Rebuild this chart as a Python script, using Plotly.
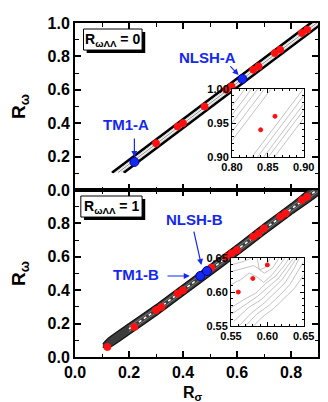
import numpy as np
import plotly.graph_objects as go

# ---------------- data ----------------
# top panel (R_wAA = 0)
red_a_x = [0.30, 0.38, 0.40, 0.48, 0.56, 0.58, 0.66, 0.68, 0.74, 0.76, 0.84, 0.86]
red_a_y = [0.28, 0.38, 0.40, 0.50, 0.60, 0.62, 0.72, 0.74, 0.82, 0.84, 0.94, 0.96]
blue_a_x = [0.22, 0.62]
blue_a_y = [0.168, 0.665]
band_a_x = [0.10, 0.30, 0.50, 0.70, 0.92]
band_a_y = [0.032, 0.276, 0.520, 0.764, 1.030]
band_a_ymin = 0.105
band_a_off = [0.029, 0.024, 0.012, 0.0, -0.012, -0.024, -0.029]

# bottom panel (R_wAA = 1)
red_b_x = [0.12, 0.22, 0.30, 0.32, 0.38, 0.40, 0.505, 0.56, 0.58, 0.60, 0.66, 0.68, 0.70, 0.76, 0.78, 0.84, 0.86]
red_b_y = [0.06, 0.18, 0.28, 0.30, 0.38, 0.40, 0.535, 0.60, 0.62, 0.64, 0.72, 0.74, 0.77, 0.84, 0.86, 0.94, 0.96]
blue_b_x = [0.464, 0.489]
blue_b_y = [0.485, 0.515]
band_b_x = [0.103, 0.125, 0.20, 0.30, 0.40, 0.50, 0.60, 0.70, 0.80, 0.92]
band_b_y = [0.068, 0.085, 0.168, 0.280, 0.400, 0.520, 0.640, 0.765, 0.885, 1.030]
band_b_half = [0.010, 0.030, 0.033, 0.033, 0.033, 0.033, 0.033, 0.033, 0.033, 0.033]

# y tick labels
y_ticks_top = [0.0, 0.2, 0.4, 0.6, 0.8, 1.0]
y_ticks_bottom = [0.0, 0.2, 0.4, 0.6, 0.8]

# inset A (x 0.80-0.90, y 0.90-1.00)
inset_a_pts_x = [0.84, 0.86]
inset_a_pts_y = [0.94, 0.96]
inset_a_y_at080 = [0.975, 0.962, 0.950, 0.937, 0.924, 0.861, 0.850, 0.838, 0.829, 0.817]
inset_a_y_at090 = [1.115, 1.102, 1.090, 1.077, 1.064, 1.001, 0.990, 0.978, 0.969, 0.957]

# inset B (x 0.55-0.65, y 0.55-0.65)
inset_b_pts_x = [0.56, 0.58, 0.60]
inset_b_pts_y = [0.60, 0.62, 0.64]
inset_b_lines = [
    ([0.550, 0.568, 0.585, 0.598, 0.611, 0.624, 0.630], [0.577, 0.589, 0.599, 0.613, 0.623, 0.640, 0.650]),
    ([0.550, 0.570, 0.587, 0.602, 0.616, 0.629, 0.636], [0.567, 0.581, 0.594, 0.608, 0.621, 0.640, 0.650]),
    ([0.554, 0.574, 0.592, 0.607, 0.620, 0.633, 0.640], [0.557, 0.577, 0.589, 0.604, 0.618, 0.638, 0.650]),
    ([0.561, 0.578, 0.596, 0.611, 0.624, 0.637, 0.644], [0.550, 0.569, 0.584, 0.599, 0.613, 0.635, 0.650]),
    ([0.570, 0.585, 0.603, 0.618, 0.631, 0.642, 0.650], [0.550, 0.567, 0.581, 0.596, 0.611, 0.630, 0.645]),
    ([0.581, 0.594, 0.609, 0.624, 0.637, 0.650], [0.550, 0.564, 0.576, 0.591, 0.605, 0.625]),
    ([0.550, 0.563, 0.575, 0.586, 0.595, 0.607, 0.618, 0.624], [0.611, 0.618, 0.628, 0.622, 0.614, 0.626, 0.641, 0.650]),
    ([0.550, 0.568, 0.581, 0.590, 0.597, 0.604], [0.630, 0.635, 0.639, 0.633, 0.636, 0.650]),
    ([0.586, 0.589, 0.596, 0.607, 0.616], [0.650, 0.633, 0.628, 0.635, 0.650]),
    ([0.550, 0.567, 0.578], [0.640, 0.645, 0.650]),
]

FONT = "Liberation Sans"
BLUE = "#1428f0"

fig = go.Figure()

# ---- top band (contour lines) ----
bax = np.array(band_a_x)
bay = np.array(band_a_y)
for off in band_a_off:
    yy = bay + off
    xs = float(np.interp(band_a_ymin, yy, bax))
    mask = bax > xs
    lx = [xs] + list(bax[mask])
    ly = [band_a_ymin] + list(yy[mask])
    a = abs(off)
    if a >= 0.020:
        col, w = "#000000", 1.9
    elif a > 0:
        col, w = "#c8c8c8", 0.8
    else:
        col, w = "#8a8a8a", 1.0
    fig.add_trace(go.Scatter(x=lx, y=ly, mode="lines", line=dict(color=col, width=w),
                             xaxis="x", yaxis="y", hoverinfo="skip", showlegend=False))

# ---- bottom band (dense contour region) ----
bbx = np.array(band_b_x)
bby = np.array(band_b_y)
bbh = np.array(band_b_half)
poly_x = list(bbx) + list(bbx[::-1])
poly_y = list(bby + bbh) + list((bby - bbh)[::-1])
fig.add_trace(go.Scatter(x=poly_x, y=poly_y, mode="lines", fill="toself", fillcolor="#3c3c3c",
                         line=dict(color="#111111", width=1.2, shape="spline", smoothing=0.6),
                         xaxis="x2", yaxis="y2", hoverinfo="skip", showlegend=False))
for off, col, w, d in [(0.015, "#8a8a8a", 0.8, "solid"), (-0.015, "#8a8a8a", 0.8, "solid"),
                       (0.0, "#ffffff", 1.5, "dot")]:
    fig.add_trace(go.Scatter(x=list(bbx[2:]), y=list(bby[2:] + off), mode="lines",
                             line=dict(color=col, width=w, dash=d), xaxis="x2", yaxis="y2",
                             hoverinfo="skip", showlegend=False))

# ---- points ----
def pts(x, y, xa, ya, color, size, lc=None):
    fig.add_trace(go.Scatter(x=x, y=y, mode="markers",
                             marker=dict(color=color, size=size,
                                         line=dict(color=lc or color, width=1)),
                             xaxis=xa, yaxis=ya, hoverinfo="skip", showlegend=False))

pts(red_a_x, red_a_y, "x", "y", "#ff1010", 7)
pts(blue_a_x, blue_a_y, "x", "y", BLUE, 9, "#0000a0")
pts(red_b_x, red_b_y, "x2", "y2", "#ff1010", 7)
pts(blue_b_x, blue_b_y, "x2", "y2", BLUE, 9, "#0000a0")

# ---- insets ----
for y0, y1 in zip(inset_a_y_at080, inset_a_y_at090):
    fig.add_trace(go.Scatter(x=[0.80, 0.90], y=[y0, y1], mode="lines",
                             line=dict(color="#b4b4b4", width=0.8), xaxis="x3", yaxis="y3",
                             hoverinfo="skip", showlegend=False))
pts(inset_a_pts_x, inset_a_pts_y, "x3", "y3", "#ff1010", 4)
for lx, ly in inset_b_lines:
    fig.add_trace(go.Scatter(x=lx, y=ly, mode="lines",
                             line=dict(color="#b4b4b4", width=0.8), xaxis="x4", yaxis="y4",
                             hoverinfo="skip", showlegend=False))
pts(inset_b_pts_x, inset_b_pts_y, "x4", "y4", "#ff1010", 4)

# ---- axes ----
tickfont = dict(family=FONT, size=16, color="black", weight="bold")
main_common = dict(showline=True, linewidth=2, linecolor="black", mirror="ticks",
                   ticks="inside", ticklen=6, tickwidth=1.5, tickcolor="black",
                   showgrid=False, zeroline=False, tickfont=tickfont,
                   minor=dict(ticks="inside", ticklen=3.5, tickwidth=1.2, tickcolor="black",
                              tickmode="linear", tick0=0, dtick=0.1))
inset_font = dict(family=FONT, size=11, color="black", weight="bold")
inset_common = dict(showline=True, linewidth=1, linecolor="black", mirror="ticks",
                    ticks="inside", ticklen=4, tickwidth=1, tickcolor="black",
                    showgrid=False, zeroline=False, tickfont=inset_font, dtick=0.05,
                    tickformat=".2f",
                    minor=dict(ticks="inside", ticklen=2, tickwidth=0.8, tickcolor="black", dtick=0.01))

ytitle = dict(text="R<sub>ω</sub>", font=dict(family=FONT, size=19, color="black", weight="bold"),
              standoff=18)

fig.update_layout(
    width=328, height=402,
    margin=dict(l=67, r=7, t=15, b=53),
    paper_bgcolor="white", plot_bgcolor="white",
    showlegend=False,
    xaxis=dict(domain=[0, 1], anchor="y", range=[0, 0.9], dtick=0.2, showticklabels=False, **main_common),
    yaxis=dict(domain=[0.5, 1], anchor="x", range=[0, 1], tickmode="array", tickvals=y_ticks_top,
               ticktext=[f"{v:.1f}" for v in y_ticks_top], title=ytitle, **main_common),
    xaxis2=dict(domain=[0, 1], anchor="y2", range=[0, 0.9], dtick=0.2, tickformat=".1f", **main_common),
    yaxis2=dict(domain=[0, 0.5], anchor="x2", range=[0, 1], tickmode="array", tickvals=y_ticks_bottom,
                ticktext=[f"{v:.1f}" for v in y_ticks_bottom], title=ytitle, **main_common),
    xaxis3=dict(domain=[0.646, 0.941], anchor="y3", range=[0.80, 0.90], **inset_common),
    yaxis3=dict(domain=[0.599, 0.802], anchor="x3", range=[0.90, 1.00], **inset_common),
    xaxis4=dict(domain=[0.642, 0.941], anchor="y4", range=[0.55, 0.65], **inset_common),
    yaxis4=dict(domain=[0.093, 0.296], anchor="x4", range=[0.55, 0.65], **inset_common),
)

# ---- boxes with shadow ----
shapes = []
annos = []
for xa, ya, x0, x1, label in [("x", "y", 0.035, 0.276, "0"), ("x2", "y2", 0.024, 0.276, "1")]:
    shapes.append(dict(type="rect", xref=f"{xa} domain", yref=f"{ya} domain",
                       x0=x0 + 0.013, x1=x1 + 0.013, y0=0.820, y1=0.946,
                       fillcolor="black", line=dict(width=0)))
    shapes.append(dict(type="rect", xref=f"{xa} domain", yref=f"{ya} domain",
                       x0=x0, x1=x1, y0=0.838, y1=0.964,
                       fillcolor="white", line=dict(color="black", width=1)))
    annos.append(dict(xref=f"{xa} domain", yref=f"{ya} domain", x=(x0 + x1) / 2, y=0.901,
                      text=f"R<sub>ωΛΛ</sub> = {label}", showarrow=False,
                      font=dict(family=FONT, size=14, color="black", weight="bold"),
                      xanchor="center", yanchor="middle"))

# x-axis title
annos.append(dict(xref="paper", yref="paper", x=0.485, y=-0.108, text="R<sub>σ</sub>",
                  showarrow=False, xanchor="center", yanchor="middle",
                  font=dict(family=FONT, size=16, color="black", weight="bold")))

labfont = dict(family=FONT, size=15, color=BLUE, weight="bold")
for xa, ya, tx, ty, txt, hx, hy, ax, ay in [
    ("x", "y", 0.188, 0.395, "TM1-A", 0.220, 0.198, 0.220, 0.317),
    ("x", "y", 0.489, 0.796, "NLSH-A", 0.606, 0.689, 0.570, 0.749),
    ("x2", "y2", 0.443, 0.826, "NLSH-B", 0.468, 0.551, 0.439, 0.760),
    ("x2", "y2", 0.227, 0.497, "TM1-B", 0.425, 0.485, 0.337, 0.485),
]:
    annos.append(dict(xref=xa, yref=ya, x=tx, y=ty, text=txt, showarrow=False, font=labfont,
                      xanchor="center", yanchor="middle"))
    annos.append(dict(xref=xa, yref=ya, x=hx, y=hy, ax=ax, ay=ay, axref=xa, ayref=ya, text="",
                      showarrow=True, arrowhead=2, arrowsize=1, arrowwidth=1.2, arrowcolor=BLUE))

fig.update_layout(shapes=shapes, annotations=annos)
fig.write_html("out.html")
